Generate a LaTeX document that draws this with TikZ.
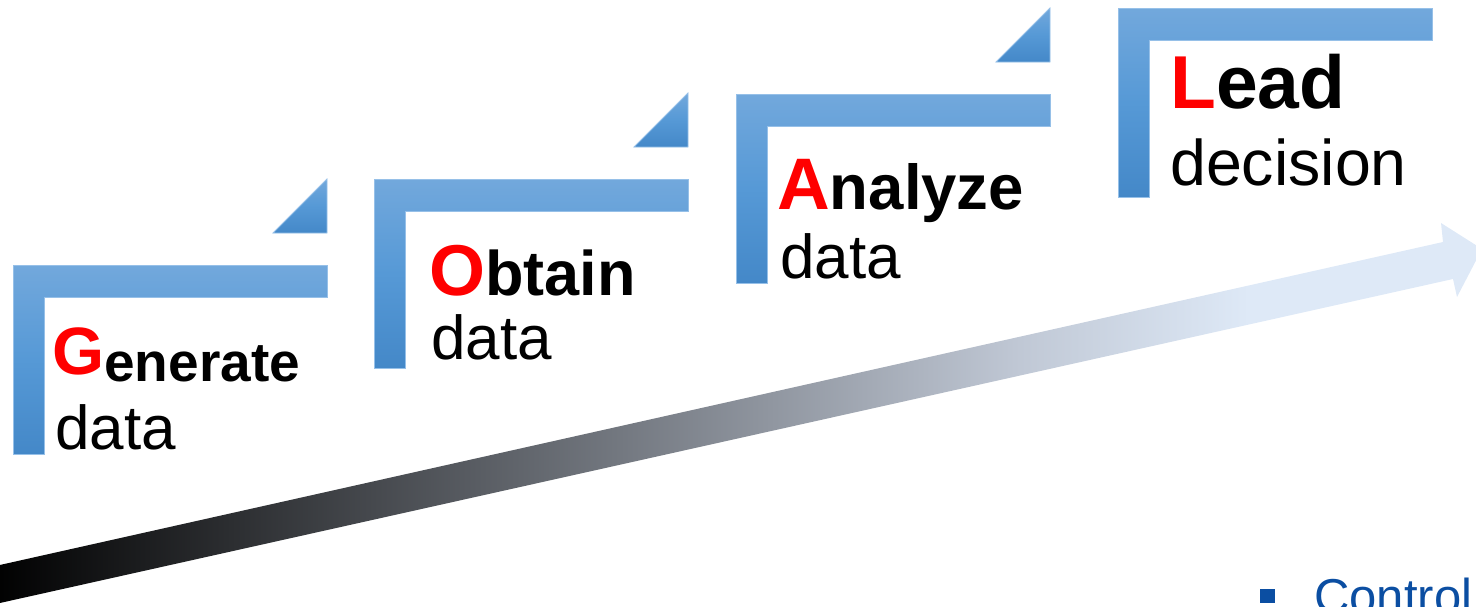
\documentclass[tikz,border=0pt]{standalone}
\usepackage{fontspec}
\setmainfont{Liberation Sans}
\definecolor{arrmid}{RGB}{115,120,128}
\definecolor{arrlight}{RGB}{192,200,213}
\definecolor{arrend}{RGB}{222,233,247}
\definecolor{stepTop}{RGB}{114,168,220}
\definecolor{stepMid}{RGB}{86,153,214}
\definecolor{stepBot}{RGB}{68,136,200}
\definecolor{stepEdge}{RGB}{150,192,232}
\definecolor{ctrlblue}{RGB}{11,78,162}
\definecolor{letterred}{RGB}{255,0,0}
\pgfdeclarehorizontalshading{arrowshade}{100bp}{color(0bp)=(black); color(25bp)=(black); color(46.1bp)=(arrmid); color(59.5bp)=(arrlight); color(67.2bp)=(arrend); color(100bp)=(arrend)}
\newcommand\stepshape[2]{%
  \shade[stepshade] (#1,#2) -- ++(314,0) -- ++(0,32) -- ++(-283,0) -- ++(0,157) -- ++(-31,0) -- cycle;
}
\newcommand\steptri[2]{%
  \shade[stepshade] ({#1+260},{#2-32}) -- ({#1+314},{#2-32}) -- ({#1+314},{#2-86}) -- cycle;
}
\begin{document}
\begin{tikzpicture}[x=1pt,y=-1pt,
  stepshade/.style={top color=stepTop, bottom color=stepBot, middle color=stepMid, draw=stepEdge, line width=0.8pt},
  lbl/.style={anchor=base west, inner sep=0pt, font=\bfseries},
  sub/.style={anchor=base west, inner sep=0pt, font=\fontsize{62}{62}\selectfont}]
\useasboundingbox (0,0) rectangle (1476,606);
\clip (0,0) rectangle (1476,606);
% big arrow
\shade[shading=arrowshade] (-10,567.2) -- (1443,242) -- (1441,223) -- (1482,249) -- (1457,297) -- (1453,279) -- (-10,605.2) -- cycle;
% steps
\stepshape{13}{265}\steptri{13}{265}
\stepshape{374}{179}\steptri{374}{179}
\stepshape{736}{94}\steptri{736}{94}
\stepshape{1118}{8}
% labels
\node[lbl] (gen) at (52,381) {\raisebox{7pt}{\color{letterred}\fontsize{67}{67}\selectfont G}{\fontsize{55}{55}\selectfont enerate}};
\node[sub] (gend) at (55,449) {data};
\node[lbl] (obt) at (429,295) {{\color{letterred}\fontsize{72}{72}\selectfont O}{\fontsize{63}{63}\selectfont btain}};
\node[sub] (obtd) at (431,359) {data};
\node[lbl] (ana) at (777,209) {{\color{letterred}\fontsize{73}{73}\selectfont A}{\fontsize{63.5}{63.5}\selectfont nalyze}};
\node[sub] (anad) at (780,278) {data};
\node[lbl] (lead) at (1170,108) {\fontsize{75}{75}\selectfont{\color{letterred}L}ead};
\node[sub, font=\fontsize{64.5}{64.5}\selectfont] (leadd) at (1170,185) {decision};
% bottom right fragment
\fill[ctrlblue] (1260,589) rectangle (1275,603);
\node[anchor=base west, inner sep=0pt, text=ctrlblue, font=\fontsize{49}{49}\selectfont] (ctrl) at (1314,613) {Control};
\end{tikzpicture}
\end{document}
